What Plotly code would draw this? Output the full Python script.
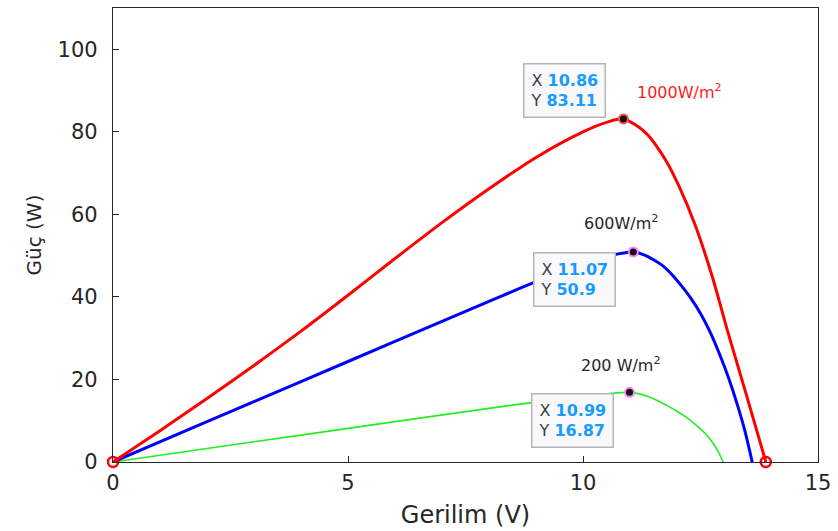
import plotly.graph_objects as go

# ---- data ----
v_1000 = [0, 1, 2, 3, 4, 5, 6, 7, 8, 9, 10, 10.5, 10.86, 11.33, 11.75, 12.04, 12.39, 12.74, 13.10, 13.45, 13.89]
p_1000 = [0, 7.6, 15.4, 23.4, 31.7, 40.4, 49.3, 58.0, 66.2, 73.8, 80.0, 82.3, 83.11, 79.8, 73.3, 66.9, 57.3, 45.3, 30.8, 17.3, 0]

v_600 = [0, 2, 4, 6, 8, 9, 10, 10.5, 11.07, 11.3, 11.5, 11.7, 11.9, 12.1, 12.3, 12.5, 12.7, 12.9, 13.1, 13.3, 13.45, 13.6]
p_600 = [0, 9.8, 19.5, 29.2, 38.9, 43.7, 48.0, 49.8, 50.9, 50.2, 49.0, 47.5, 45.3, 42.6, 39.6, 36.0, 31.6, 26.3, 20.3, 13.3, 7.3, 0]

v_200 = [0, 2, 4, 6, 8, 9, 10, 10.5, 10.99, 11.2, 11.4, 11.6, 11.8, 12.0, 12.2, 12.4, 12.6, 12.7, 12.8, 12.9, 12.98]
p_200 = [0, 3.26, 6.52, 9.78, 13.0, 14.5, 15.8, 16.5, 16.87, 16.5, 15.8, 14.8, 13.6, 12.3, 10.8, 9.0, 6.9, 5.6, 4.0, 2.0, 0]

peak_v = [10.86, 11.07, 10.99]
peak_p = [83.11, 50.9, 16.87]
peak_ring = ["#ff5050", "#ff80ff", "#ff80ff"]

end_v = [0, 13.89]
end_p = [0, 0]

series_labels = ["1000W/m<sup>2</sup>", "600W/m<sup>2</sup>", "200 W/m<sup>2</sup>"]
series_label_colors = ["#ff1a1a", "#262626", "#262626"]
label_v = [12.05, 10.8, 10.8]
label_p = [89.8, 58.0, 23.6]

tip_box_v = [8.72, 8.93, 8.89]
tip_box_p = [96.6, 50.8, 16.6]

x_ticks = [0, 5, 10, 15]
y_ticks = [0, 20, 40, 60, 80, 100]

FONT = "DejaVu Sans, Arial, sans-serif"
AX = "#262626"

fig = go.Figure()
fig.add_trace(go.Scatter(x=v_200, y=p_200, mode="lines",
                         line=dict(color="#22ee22", width=1.6, shape="spline", smoothing=0.8),
                         cliponaxis=False, showlegend=False))
fig.add_trace(go.Scatter(x=v_600, y=p_600, mode="lines",
                         line=dict(color="#0000ff", width=3, shape="spline", smoothing=0.8),
                         cliponaxis=False, showlegend=False))
fig.add_trace(go.Scatter(x=v_1000, y=p_1000, mode="lines",
                         line=dict(color="#ff0000", width=3, shape="spline", smoothing=0.8),
                         cliponaxis=False, showlegend=False))
fig.add_trace(go.Scatter(x=end_v, y=end_p, mode="markers",
                         marker=dict(symbol="circle-open", size=10, color="#ff0000", line=dict(width=2.5, color="#ff0000")),
                         cliponaxis=False, showlegend=False))
fig.add_trace(go.Scatter(x=peak_v, y=peak_p, mode="markers",
                         marker=dict(symbol="circle", size=9, color="#111111", line=dict(width=2, color=peak_ring)),
                         cliponaxis=False, showlegend=False))

for lab, col, lv, lp in zip(series_labels, series_label_colors, label_v, label_p):
    fig.add_annotation(x=lv, y=lp, text=lab, showarrow=False, font=dict(family=FONT, size=16, color=col),
                       xanchor="center", yanchor="middle")

for pv, pp, bv, bp in zip(peak_v, peak_p, tip_box_v, tip_box_p):
    txt = (f"<span style='color:#404040'>X</span> <b><span style='color:#1a9bff'>{pv:g}</span></b><br>"
           f"<span style='color:#404040'>Y</span> <b><span style='color:#1a9bff'>{pp:g}</span></b>")
    fig.add_annotation(x=bv, y=bp, text=txt, showarrow=False, align="left",
                       xanchor="left", yanchor="top",
                       font=dict(family=FONT, size=16),
                       bgcolor="#f9f9fb", bordercolor="#b5b5b5", borderwidth=1.5, borderpad=6)

fig.update_layout(
    width=838, height=531,
    margin=dict(l=113, r=17, t=7, b=69),
    paper_bgcolor="white", plot_bgcolor="white",
    font=dict(family=FONT, color=AX),
    xaxis=dict(range=[0, 15], tickvals=x_ticks, ticks="inside", ticklen=6, tickcolor=AX,
               showline=True, linecolor=AX, linewidth=1.2, mirror=True, showgrid=False, zeroline=False,
               tickfont=dict(size=21, color=AX), ticklabelstandoff=2,
               title=dict(text="Gerilim (V)", font=dict(size=24, color=AX), standoff=11)),
    yaxis=dict(range=[0, 110], tickvals=y_ticks, ticks="inside", ticklen=6, tickcolor=AX,
               showline=True, linecolor=AX, linewidth=1.2, mirror=True, showgrid=False, zeroline=False,
               tickfont=dict(size=21, color=AX), ticklabelstandoff=10,
               title=dict(text="Güç (W)", font=dict(size=20, color=AX), standoff=10)),
)

fig.write_html("out.html")
